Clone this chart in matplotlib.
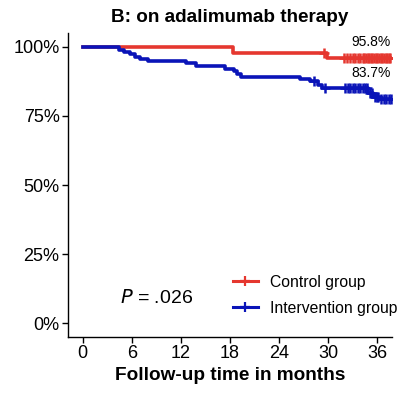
import numpy as np
import matplotlib
matplotlib.use("Agg")
import matplotlib.pyplot as plt
from matplotlib.lines import Line2D

plt.rcParams['font.family'] = ['Liberation Sans', 'DejaVu Sans']

# Kaplan-Meier steps (months, survival %)
ctrl_t = [0, 18.4, 29.9, 37.8]
ctrl_s = [100, 97.9, 95.8, 95.8]
ctrl_cens = [29.5, 31.9, 32.3, 32.7, 33.0, 33.3, 33.6, 33.9, 34.2, 34.4, 34.6,
             34.8, 35.0, 35.2, 35.4, 35.6, 35.8, 36.0, 36.2, 36.4, 36.6, 36.8,
             37.0, 37.2, 37.4, 37.6]

int_t = [0, 4.5, 5.1, 5.75, 6.4, 7.0, 8.0, 12.6, 13.8, 17.4, 18.5, 18.8, 19.4,
         26.6, 27.8, 28.8, 29.2, 34.9, 35.5, 36.3, 37.8]
int_s = [100, 99.0, 98.1, 97.3, 96.3, 95.7, 94.8, 94.1, 92.9, 92.0, 91.2, 90.2,
         89.0, 88.5, 87.5, 86.0, 85.0, 83.1, 81.9, 81.0, 81.0]
int_cens = [28.3, 29.6, 32.1, 32.4, 32.7, 33.0, 33.3, 33.6, 33.9, 34.2, 34.5,
            34.7, 35.1, 35.3, 35.7, 35.9, 36.1, 36.5, 36.8, 37.1, 37.4, 37.7]

red = '#E5372F'
blue = '#0A14B8'


def step_at(t, times, surv):
    idx = np.searchsorted(times, t, side='right') - 1
    return np.array(surv)[idx]


fig = plt.figure(figsize=(4.14, 3.97), dpi=100)
ax = fig.add_axes([0.164, 0.151, 0.783, 0.766])

for times, surv, cens, col in [(ctrl_t, ctrl_s, ctrl_cens, red),
                               (int_t, int_s, int_cens, blue)]:
    ax.step(times, surv, where='post', color=col, lw=2.6, zorder=3)
    ax.plot(cens, step_at(cens, times, surv), ls='none', marker='+',
            color=col, ms=7, mew=1.8, zorder=4)

ax.text(35.2, 101.8, '95.8%', fontsize=10, ha='center', va='center')
ax.text(35.2, 90.6, '83.7%', fontsize=10, ha='center', va='center')
ax.text(4.6, 9.0, r'$\mathit{P}$ = .026', fontsize=14, ha='left', va='center')

handles = [Line2D([], [], color=red, lw=2.2, marker='+', ms=7, mew=1.6),
           Line2D([], [], color=blue, lw=2.2, marker='+', ms=7, mew=1.6)]
ax.legend(handles, ['Control group', 'Intervention group'], loc='lower right',
          bbox_to_anchor=(1.061, 0.024), frameon=False, fontsize=11.3,
          handlelength=1.6, handletextpad=0.8, labelspacing=0.7)

ax.set_xlim(-1.8, 37.8)
ax.set_ylim(-5, 105)
ax.set_xticks([0, 6, 12, 18, 24, 30, 36])
ax.set_yticks([0, 25, 50, 75, 100])
ax.set_yticklabels(['0%', '25%', '50%', '75%', '100%'])
ax.tick_params(labelsize=13, length=4, width=1, colors='black', pad=2)
for s in ['top', 'right']:
    ax.spines[s].set_visible(False)
for s in ['left', 'bottom']:
    ax.spines[s].set_linewidth(1)

ax.set_xlabel('Follow-up time in months', fontsize=13.7, fontweight='bold', labelpad=3)
ax.set_title('B: on adalimumab therapy', fontsize=13.6, fontweight='bold', pad=8)

fig.savefig('out.png', dpi=100)
